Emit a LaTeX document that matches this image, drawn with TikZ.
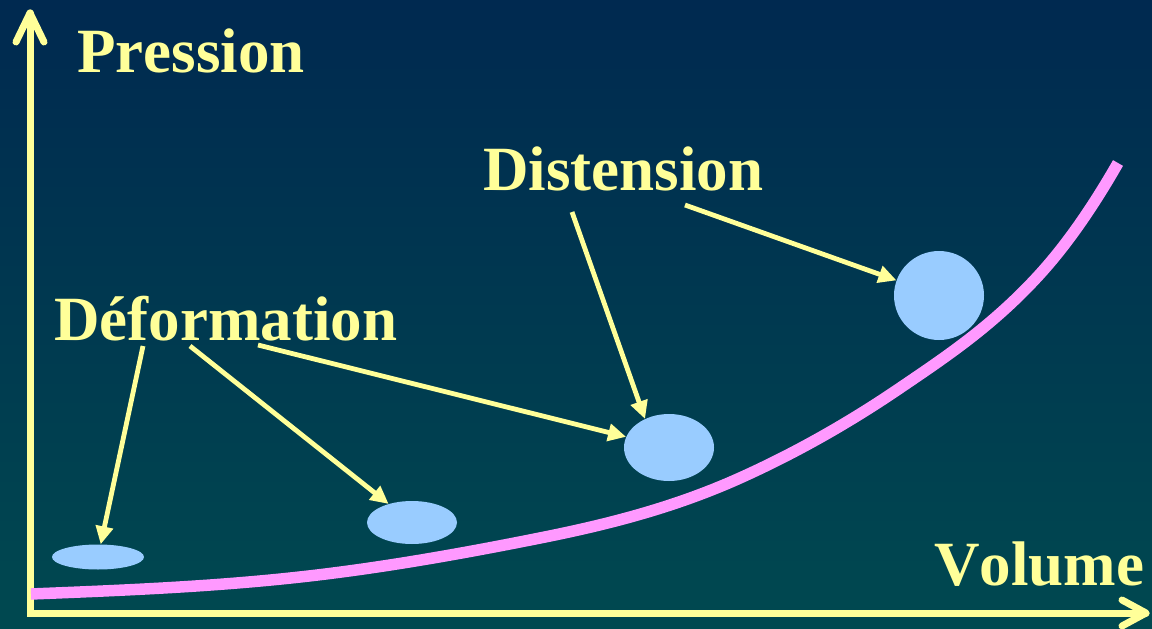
\documentclass[tikz,border=0pt]{standalone}
\usepackage{fontspec}
\setmainfont{Liberation Serif}[Kerning=Off]
\usetikzlibrary{arrows.meta,shapes.geometric}
\definecolor{bgtop}{RGB}{0,41,80}
\definecolor{bgbot}{RGB}{0,73,80}
\definecolor{lab}{RGB}{255,255,153}
\definecolor{blob}{RGB}{153,204,255}
\definecolor{pinkc}{RGB}{255,153,255}
\begin{document}
\begin{tikzpicture}[x=1pt,y=-1pt,
  lbl/.style={text=lab,font=\fontsize{63}{70}\selectfont\bfseries,inner sep=0pt,anchor=base west},
  blobby/.style={ellipse,fill=blob,inner sep=0pt},
  ptr/.style={draw=lab,line width=4.8pt,-{Triangle[length=18pt,width=17pt]}},
  axisline/.style={draw=lab,line width=7pt,line cap=round,line join=round},
  pinkline/.style={draw=pinkc,line width=11.5pt,line cap=butt}]
\useasboundingbox (0,0) rectangle (1152,629);
\shade[top color=bgtop,bottom color=bgbot] (0,0) rectangle (1152,629);

% axes
\coordinate (o) at (30,613);
\coordinate (ytip) at (30,13);
\coordinate (xtip) at (1146,613);
\draw[axisline,line join=miter] (ytip) -- (o) -- (xtip);
\draw[axisline] (16,42) -- (ytip) -- (44,42);
\draw[axisline] (1122,600) -- (xtip) -- (1122,626);

% curve
\draw[pinkline] (31,594)
  .. controls (120.7,590.4) and (210.3,586.9) .. (300,577)
  .. controls (380,568.2) and (460,554) .. (540,538)
  .. controls (606.7,524.7) and (673.3,508) .. (740,478)
  .. controls (793.3,454) and (846.7,424.3) .. (900,388)
  .. controls (946.7,356.3) and (993.3,325.3) .. (1040,274)
  .. controls (1066,245.4) and (1092,208.5) .. (1118,163);

% labels
\node[lbl] (pres) at (77,72) {Pression};
\node[lbl] (dist) at (483,190) {Distension};
\node[lbl] (defo) at (54,340) {Déformation};
\node[lbl] (vol) at (934,585) {Volume};

% blobs
\node[blobby,minimum width=92pt,minimum height=25pt] (e1) at (98,557) {};
\node[blobby,minimum width=90pt,minimum height=43pt] (e2) at (412,522.5) {};
\node[blobby,minimum width=90pt,minimum height=67pt] (e3) at (669,447.5) {};
\node[blobby,minimum width=90pt,minimum height=89pt] (e4) at (939,295.5) {};

% arrow tails
\coordinate (t1) at (143,346);
\coordinate (t2) at (190,346);
\coordinate (t3) at (258,345);
\coordinate (t4) at (572,212);
\coordinate (t5) at (685,205);

\draw[ptr] (t1) -- (e1);
\draw[ptr] (t2) -- (e2);
\draw[ptr] (t3) -- (e3);
\draw[ptr] (t4) -- (e3.130);
\draw[ptr] (t5) -- (e4);
\end{tikzpicture}
\end{document}
